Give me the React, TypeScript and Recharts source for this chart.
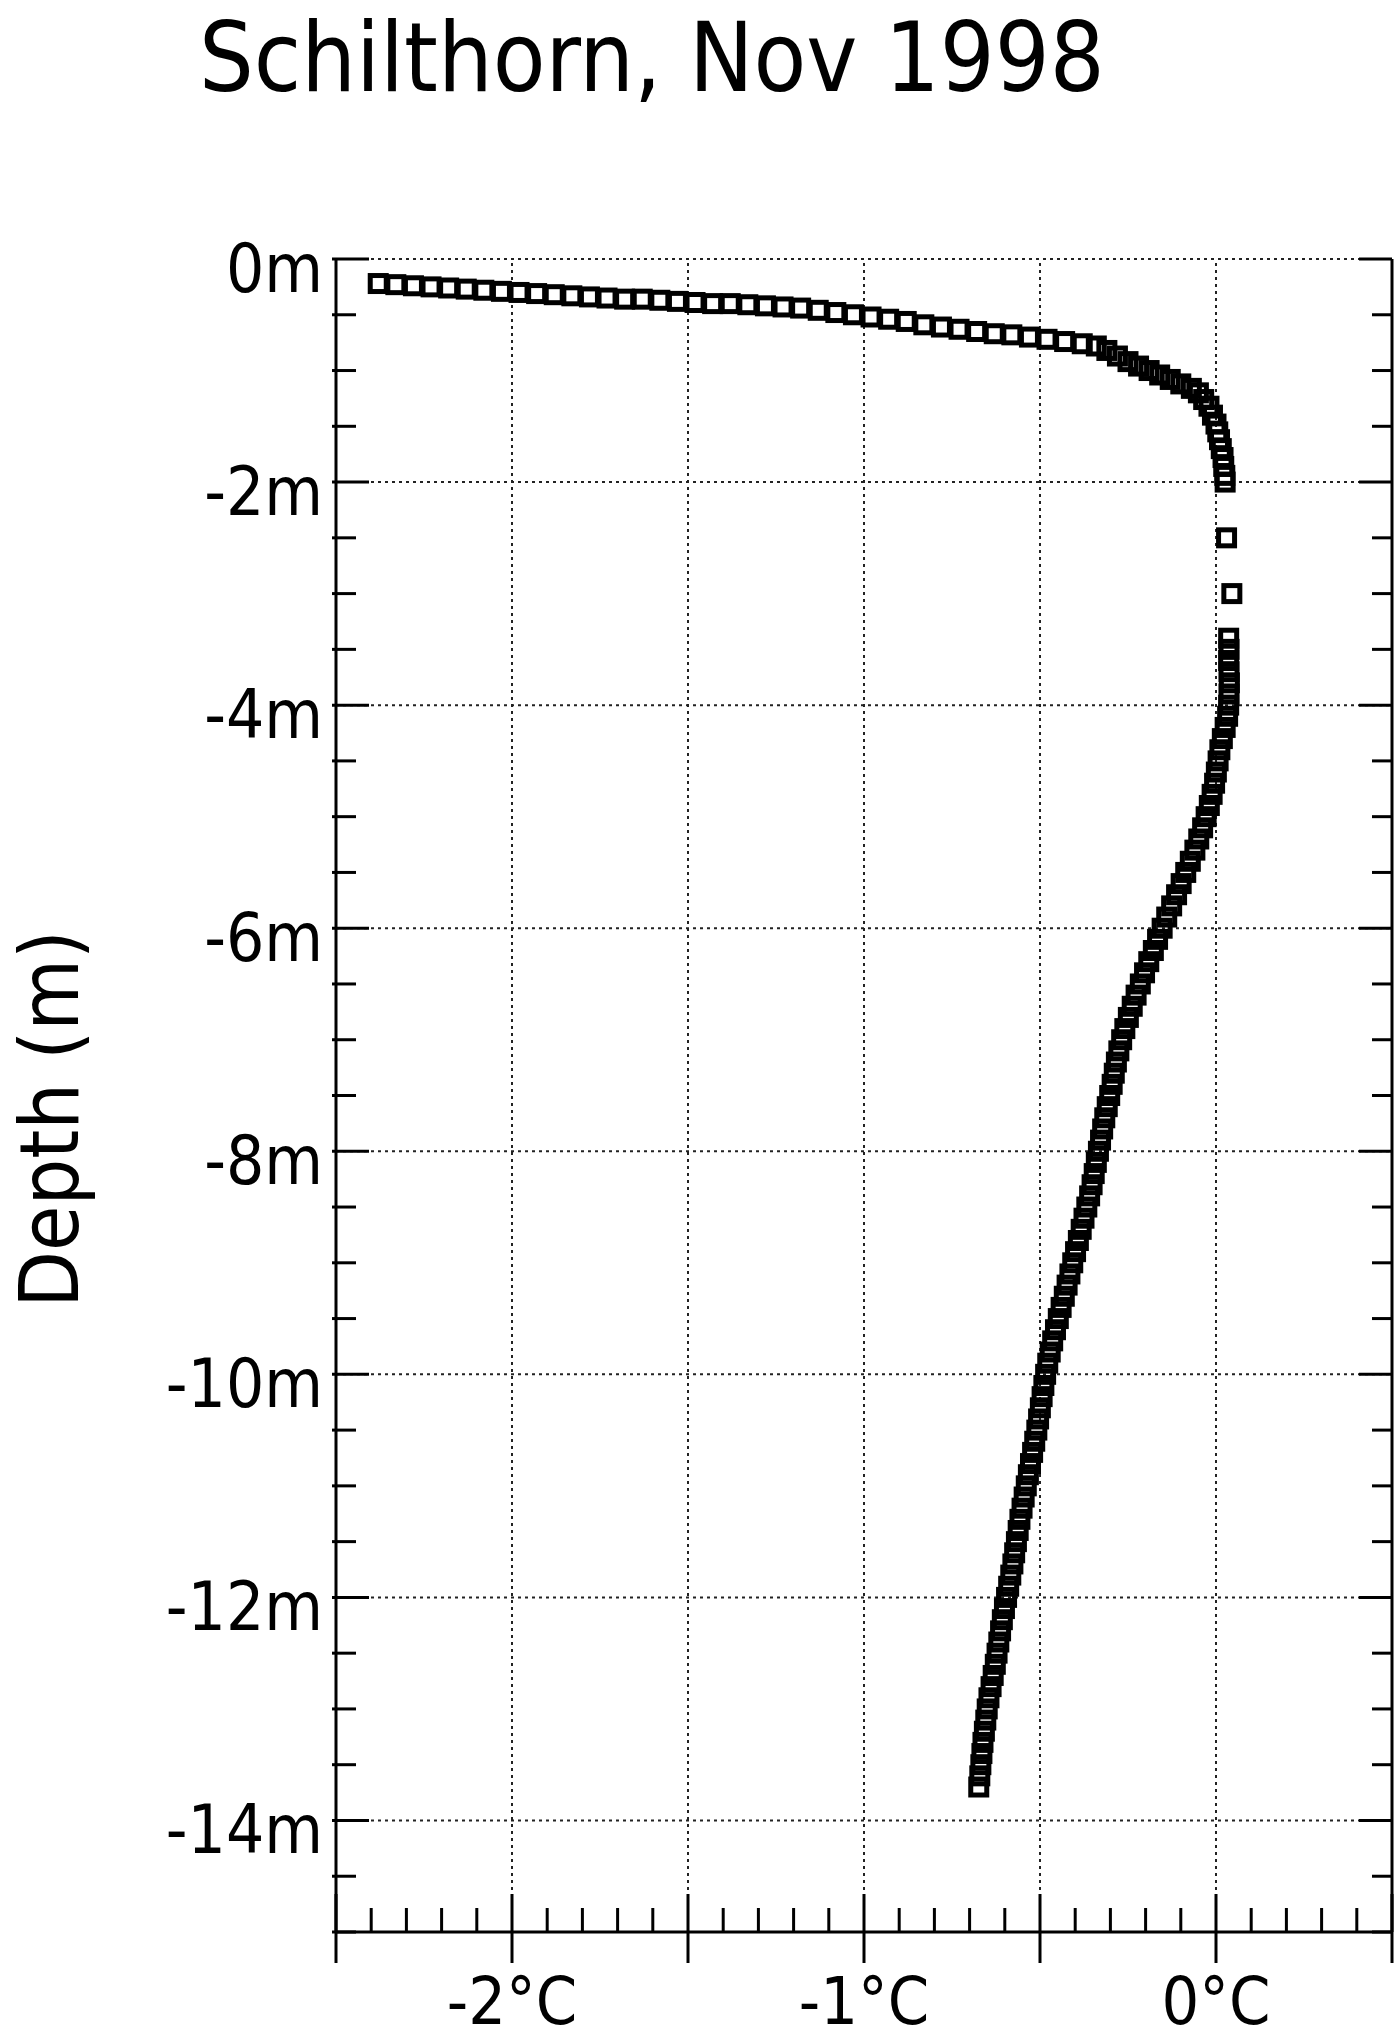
import { ScatterChart, Scatter, XAxis, YAxis, ReferenceLine } from 'recharts'

// near-surface part of the profile (active layer, 0 to 2 m)
const surfaceTemp = [
  -2.38, -2.33, -2.28, -2.23, -2.18, -2.13, -2.08, -2.03, -1.98, -1.93, -1.88, -1.83, -1.78, -1.73,
  -1.68, -1.63, -1.58, -1.53, -1.48, -1.43, -1.38, -1.33, -1.28, -1.23, -1.18, -1.13, -1.08, -1.03,
  -0.98, -0.93, -0.88, -0.83, -0.78, -0.73, -0.68, -0.63, -0.58, -0.53, -0.48, -0.43, -0.38, -0.34,
  -0.31, -0.28, -0.25, -0.22, -0.19, -0.16, -0.13, -0.1, -0.07, -0.05, -0.035, -0.02, -0.01, 0.0,
  0.005, 0.01, 0.015, 0.02, 0.022, 0.025, 0.026,
]
const surfaceDepth = [
  -0.22, -0.23, -0.24, -0.25, -0.26, -0.27, -0.28, -0.29, -0.3, -0.31, -0.32, -0.33, -0.34, -0.35,
  -0.36, -0.36, -0.37, -0.38, -0.39, -0.4, -0.4, -0.41, -0.42, -0.43, -0.44, -0.46, -0.48, -0.5,
  -0.52, -0.54, -0.56, -0.59, -0.61, -0.63, -0.65, -0.67, -0.68, -0.7, -0.72, -0.74, -0.76, -0.78,
  -0.82, -0.87, -0.92, -0.96, -1.0, -1.04, -1.08, -1.12, -1.16, -1.2, -1.26, -1.32, -1.4, -1.48,
  -1.55, -1.62, -1.7, -1.78, -1.86, -1.94, -2.0,
]

// two isolated readings in the gap
const gapTemp = [0.03, 0.045]
const gapDepth = [-2.5, -3.0]

// deep part of the profile (3.4 to 13.7 m)
const deepTemp = [
  0.036, 0.037, 0.036, 0.037, 0.038, 0.037, 0.036, 0.033, 0.026, 0.018, 0.011, 0.006, 0.001, -0.004,
  -0.011, -0.019, -0.028, -0.038, -0.049, -0.06, -0.073, -0.086, -0.099, -0.112, -0.126, -0.14,
  -0.153, -0.166, -0.178, -0.191, -0.203, -0.215, -0.227, -0.238, -0.249, -0.259, -0.268, -0.276,
  -0.283, -0.289, -0.295, -0.302, -0.309, -0.316, -0.322, -0.328, -0.334, -0.34, -0.346, -0.352,
  -0.359, -0.367, -0.375, -0.383, -0.391, -0.399, -0.407, -0.415, -0.423, -0.431, -0.44, -0.448,
  -0.456, -0.464, -0.471, -0.478, -0.484, -0.489, -0.494, -0.499, -0.504, -0.509, -0.515, -0.521,
  -0.527, -0.533, -0.539, -0.545, -0.551, -0.557, -0.562, -0.567, -0.572, -0.577, -0.583, -0.589,
  -0.595, -0.601, -0.607, -0.612, -0.617, -0.622, -0.627, -0.633, -0.639, -0.645, -0.65, -0.654,
  -0.658, -0.662, -0.665, -0.668, -0.671, -0.674,
]
const deepDepth = [
  -3.4, -3.5, -3.6, -3.7, -3.8, -3.9, -4.0, -4.1, -4.2, -4.3, -4.4, -4.5, -4.6, -4.7,
  -4.8, -4.9, -5.0, -5.1, -5.2, -5.3, -5.4, -5.5, -5.6, -5.7, -5.8, -5.9,
  -6.0, -6.1, -6.2, -6.3, -6.4, -6.5, -6.6, -6.7, -6.8, -6.9, -7.0, -7.1,
  -7.2, -7.3, -7.4, -7.5, -7.6, -7.7, -7.8, -7.9, -8.0, -8.1, -8.2, -8.3,
  -8.4, -8.5, -8.6, -8.7, -8.8, -8.9, -9.0, -9.1, -9.2, -9.3, -9.4, -9.5,
  -9.6, -9.7, -9.8, -9.9, -10.0, -10.1, -10.2, -10.3, -10.4, -10.5, -10.6, -10.7,
  -10.8, -10.9, -11.0, -11.1, -11.2, -11.3, -11.4, -11.5, -11.6, -11.7, -11.8, -11.9,
  -12.0, -12.1, -12.2, -12.3, -12.4, -12.5, -12.6, -12.7, -12.8, -12.9, -13.0, -13.1,
  -13.2, -13.3, -13.4, -13.5, -13.6, -13.7,
]

const xTicks = [
  -2.5, -2.4, -2.3, -2.2, -2.1, -2, -1.9, -1.8, -1.7, -1.6, -1.5, -1.4, -1.3, -1.2, -1.1, -1,
  -0.9, -0.8, -0.7, -0.6, -0.5, -0.4, -0.3, -0.2, -0.1, 0, 0.1, 0.2, 0.3, 0.4, 0.5,
]
const xMajorTicks = [-2.5, -2, -1.5, -1, -0.5, 0, 0.5]
const xLabelTicks = [-2, -1, 0]
const xGrid = [-2, -1.5, -1, -0.5, 0]

const yTicks = [
  0, -0.5, -1, -1.5, -2, -2.5, -3, -3.5, -4, -4.5, -5, -5.5, -6, -6.5, -7, -7.5, -8, -8.5, -9,
  -9.5, -10, -10.5, -11, -11.5, -12, -12.5, -13, -13.5, -14, -14.5, -15,
]
const yLabelTicks = [0, -2, -4, -6, -8, -10, -12, -14]

const FONT = "'DejaVu Sans Condensed', 'DejaVu Sans', sans-serif"
const W = 1400
const H = 2043
const PLOT_LEFT = 336
const PLOT_RIGHT = 1392
const PLOT_TOP = 259
const PLOT_BOTTOM = 1932
const PLOT_W = PLOT_RIGHT - PLOT_LEFT

const profile = [
  ...surfaceTemp.map((t, i) => ({ t, d: surfaceDepth[i] })),
  ...gapTemp.map((t, i) => ({ t, d: gapDepth[i] })),
  ...deepTemp.map((t, i) => ({ t, d: deepDepth[i] })),
]

const Square = (props: any) => {
  const { cx, cy } = props
  if (cx == null || cy == null) return null
  return <rect x={cx - 8} y={cy - 8} width={16} height={16} fill="none" stroke="#000" strokeWidth={5} />
}

const YTick = (props: any) => {
  const { x, y, payload } = props
  const v = payload.value
  const major = yLabelTicks.includes(v)
  const len = major ? 33 : 20
  return (
    <g>
      <line x1={x - 4} x2={x + len} y1={y} y2={y} stroke="#000" strokeWidth={3} />
      <line x1={x + PLOT_W - len} x2={x + PLOT_W} y1={y} y2={y} stroke="#000" strokeWidth={3} />
      {major && (
        <text x={x - 13} y={y + 33} textAnchor="end" fontFamily={FONT} fontSize={67} fill="#000"
          style={{ fontStretch: 'condensed' }}>
          {`${v}m`}
        </text>
      )}
    </g>
  )
}

const XTick = (props: any) => {
  const { x, y, payload } = props
  const v = payload.value
  const major = xMajorTicks.includes(v)
  return (
    <g>
      <line x1={x} x2={x} y1={y - (major ? 38 : 24)} y2={y + (major ? 31 : 0)} stroke="#000" strokeWidth={3} />
      {xLabelTicks.includes(v) && (
        <text x={x} y={y + 92} textAnchor="middle" fontFamily={FONT} fontSize={66} fill="#000"
          style={{ fontStretch: 'condensed' }}>
          {`${v}°C`}
        </text>
      )}
    </g>
  )
}

export default function App() {
  return (
    <div style={{ position: 'absolute', left: 0, top: 0, width: W, height: H, background: '#fff' }}>
      <ScatterChart
        width={W}
        height={H}
        margin={{ top: PLOT_TOP, right: W - PLOT_RIGHT, bottom: 0, left: 0 }}
      >
        {xGrid.map((v) => (
          <ReferenceLine key={`gx${v}`} x={v} stroke="#222" strokeWidth={2} strokeDasharray="3 4" />
        ))}
        {yLabelTicks.map((v) => (
          <ReferenceLine key={`gy${v}`} y={v} stroke="#222" strokeWidth={2} strokeDasharray="3 4" />
        ))}
        <ReferenceLine x={0.5} stroke="#000" strokeWidth={3} />
        <XAxis
          type="number"
          dataKey="t"
          domain={[-2.5, 0.5]}
          ticks={xTicks}
          interval={0}
          height={H - PLOT_BOTTOM}
          tickSize={0}
          tickMargin={0}
          tick={<XTick />}
          axisLine={{ stroke: '#000', strokeWidth: 3 }}
          allowDataOverflow
        />
        <YAxis
          type="number"
          dataKey="d"
          domain={[-15, 0]}
          ticks={yTicks}
          interval={0}
          width={PLOT_LEFT}
          tickSize={0}
          tickMargin={0}
          tick={<YTick />}
          axisLine={{ stroke: '#000', strokeWidth: 3 }}
          allowDataOverflow
        />
        <Scatter data={profile} shape={<Square />} isAnimationActive={false} />
      </ScatterChart>
      <svg
        width={W}
        height={H}
        style={{ position: 'absolute', left: 0, top: 0, pointerEvents: 'none' }}
      >
        <text x={199} y={91} fontFamily={FONT} fontSize={96} fill="#000" style={{ fontStretch: 'condensed' }}>
          Schilthorn, Nov 1998
        </text>
        <text
          transform="translate(78, 1119) rotate(-90)"
          textAnchor="middle"
          fontFamily={FONT}
          fontSize={82}
          fill="#000"
          style={{ fontStretch: 'condensed' }}
        >
          Depth (m)
        </text>
      </svg>
    </div>
  )
}
